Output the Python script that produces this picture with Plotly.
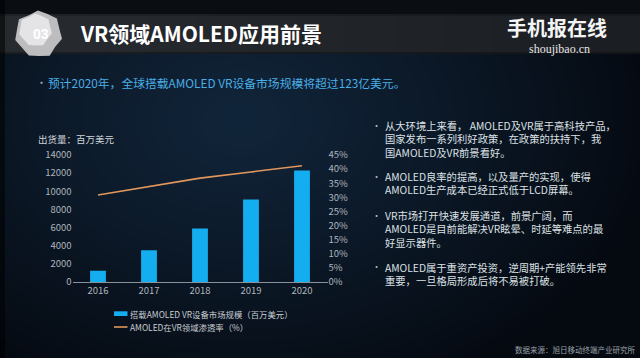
import base64, struct, zlib
import numpy as np
import plotly.graph_objects as go

# ---------------- data ----------------
years = ["2016", "2017", "2018", "2019", "2020"]
market_size = [1250, 3500, 5900, 9100, 12300]          # 百万美元
penetration = [30.8, 33.9, 36.8, 39.0, 41.2]           # %
left_ticks = [0, 2000, 4000, 6000, 8000, 10000, 12000, 14000]
right_ticks = [0, 5, 10, 15, 20, 25, 30, 35, 40, 45]

bar_name = "搭载AMOLED VR设备市场规模（百万美元）"
line_name = "AMOLED在VR领域渗透率（%）"
title_text = "VR领域AMOLED应用前景"
subtitle_text = "预计2020年，全球搭载AMOLED VR设备市场规模将超过123亿美元。"
y_title = "出货量：百万美元"
source_text = "数据来源：旭日移动终端产业研究所"
bullets = [
    ["从大环境上来看， AMOLED及VR属于高科技产品，",
     "国家发布一系列利好政策，在政策的扶持下，我",
     "国AMOLED及VR前景看好。"],
    ["AMOLED良率的提高，以及量产的实现，使得",
     "AMOLED生产成本已经正式低于LCD屏幕。"],
    ["VR市场打开快速发展通道，前景广阔，而",
     "AMOLED是目前能解决VR眩晕、时延等难点的最",
     "好显示器件。"],
    ["AMOLED属于重资产投资，逆周期+产能领先非常",
     "重要，一旦格局形成后将不易被打破。"],
]

W, H = 640, 358
BAR_C = "#14aef0"
LINE_C = "#e0965c"
CJK = "Noto Sans CJK SC"


def px(x):
    return x / W


def py(y):
    return 1 - y / H


# ---------------- background image (PNG, generated locally) ----------------
def make_png(arr):
    h, w, _ = arr.shape
    raw = b"".join(b"\x00" + arr[i].tobytes() for i in range(h))

    def chunk(tag, data):
        c = struct.pack(">I", len(data)) + tag + data
        return c + struct.pack(">I", zlib.crc32(tag + data) & 0xFFFFFFFF)

    return (b"\x89PNG\r\n\x1a\n" + chunk(b"IHDR", struct.pack(">IIBBBBB", w, h, 8, 2, 0, 0, 0))
            + chunk(b"IDAT", zlib.compress(raw, 9)) + chunk(b"IEND", b""))


yy, xx = np.mgrid[0:H, 0:W].astype(float)
d = np.sqrt(((xx - 240) / 430) ** 2 + ((yy - 120) / 300) ** 2)
d = np.clip(d, 0, 1) ** 1.1
inner = np.array([17, 37, 58], float)
outer = np.array([5, 9, 16], float)
bg = inner[None, None, :] * (1 - d[..., None]) + outer[None, None, :] * d[..., None]
bg[0:14] = np.array([10, 13, 18])
t = (np.arange(W) / W)[:, None]
band = np.array([40, 43, 48])[None, :] * (1 - t) + np.array([27, 30, 35])[None, :] * t
bg[14:54] = band[None, :, :]
bg[14:16] = bg[14:16] * 0.8
bg[52:54] = bg[52:54] * 0.7
bg[:, 0:5] = bg[:, 0:5] * 0.45
bg = np.clip(bg, 0, 255).astype(np.uint8)
bg_uri = "data:image/png;base64," + base64.b64encode(make_png(bg)).decode()

# ---------------- figure ----------------
fig = go.Figure()
fig.add_trace(go.Bar(x=years, y=market_size, name=bar_name, marker_color=BAR_C,
                     marker_line_width=0, width=0.31, showlegend=False))
fig.add_trace(go.Scatter(x=years, y=penetration, name=line_name, yaxis="y2", mode="lines",
                         line=dict(color=LINE_C, width=1.6), showlegend=False))

tickfont = dict(family=CJK, size=9.5, color="#aeb5bc")
fig.update_layout(
    width=W, height=H,
    margin=dict(l=0, r=0, t=0, b=0, autoexpand=False),
    paper_bgcolor="#08101a", plot_bgcolor="rgba(0,0,0,0)",
    xaxis=dict(domain=[px(72.5), px(327.5)], showgrid=False, showline=True, linecolor="#8a9299",
               linewidth=1, ticks="", tickfont=tickfont, zeroline=False),
    yaxis=dict(domain=[py(282), py(155)], range=[0, 14000], tickvals=left_ticks, showgrid=False,
               zeroline=False, showline=False, ticks="", tickfont=tickfont, tickformat="d"),
    yaxis2=dict(overlaying="y", side="right", range=[0, 45], tickvals=right_ticks,
                ticktext=[f"{v}%" for v in right_ticks], showgrid=False, zeroline=False,
                showline=False, ticks="", tickfont=tickfont),
    bargap=0.69,
    images=[dict(source=bg_uri, xref="paper", yref="paper", x=0, y=1, sizex=1, sizey=1,
                 sizing="stretch", layer="below")],
)

ann = []
shapes = []


def text(x, y, s, size, color, anchor="left", family=CJK, bold=False, align="left"):
    ann.append(dict(x=px(x), y=py(y), xref="paper", yref="paper", text=f"<b>{s}</b>" if bold else s,
                    showarrow=False, xanchor=anchor, yanchor="middle", align=align, borderpad=0,
                    font=dict(family=family, size=size, color=color)))


# badge
ang = np.linspace(0, 2 * np.pi, 15)[:-1] + 0.2
rad = np.array([24, 21, 24.5, 22, 23.5, 21.5, 24, 22, 24.5, 21, 23.5, 22, 24, 21.5])
cx, cy = 38.5, 34
pts = [(cx + r * np.cos(a), cy + r * np.sin(a)) for a, r in zip(ang, rad)]
path = "M " + " L ".join(f"{px(x):.5f},{py(y):.5f}" for x, y in pts) + " Z"
shapes.append(dict(type="path", path=path, xref="paper", yref="paper",
                   fillcolor="#bdbdbf", line=dict(width=0), layer="above"))
pts2 = [(cx - 3 + 0.7 * r * np.cos(a), cy - 4 + 0.7 * r * np.sin(a)) for a, r in zip(ang, rad)]
path2 = "M " + " L ".join(f"{px(x):.5f},{py(y):.5f}" for x, y in pts2) + " Z"
shapes.append(dict(type="path", path=path2, xref="paper", yref="paper",
                   fillcolor="rgba(238,238,240,0.8)", line=dict(width=0), layer="above"))
text(40.5, 34, "03", 14, "#ffffff", anchor="center", family="Liberation Sans Narrow, Liberation Sans", bold=True)

# title & logo
text(79, 33, title_text, 21, "#ffffff", bold=True)
text(506, 27, "手机报在线", 20, "#f4f4f4", bold=True)
text(528, 49, "shoujibao.cn", 12, "#e6e6e6", family="Liberation Serif")

# subtitle
text(35, 82, "•", 11, "#8fa7bd")
text(47, 82, subtitle_text, 11.8, "#4aaee6")

# y title
text(37, 139, y_title, 9.5, "#d0d5da")

# right bullets (one block per bullet)
bullet_mid = [139.2, 183.4, 229.0, 273.6]
for lines, ym in zip(bullets, bullet_mid):
    first = ym - (len(lines) - 1) * 13.4 / 2
    text(376, first, "•", 9, "#b8bec4", anchor="center")
    text(384, ym, "<br>".join(lines), 10.3, "#dde1e5")

# legend (manual)
shapes.append(dict(type="rect", xref="paper", yref="paper", x0=px(114), x1=px(127.5),
                   y0=py(316), y1=py(311.3), fillcolor=BAR_C, line=dict(width=0)))
shapes.append(dict(type="line", xref="paper", yref="paper", x0=px(114), x1=px(127.5),
                   y0=py(327), y1=py(327), line=dict(color=LINE_C, width=1.6)))
text(129, 313.8, bar_name, 8.4, "#c8cdd2")
text(129, 327, line_name, 8.4, "#c8cdd2")

# source
text(636, 349.5, source_text, 7.5, "#9aa2aa", anchor="right")

fig.update_layout(annotations=ann, shapes=shapes)
fig.write_html("out.html", config={"displayModeBar": False},
               post_script="document.body.style.margin='0px';document.body.style.overflow='hidden';")
